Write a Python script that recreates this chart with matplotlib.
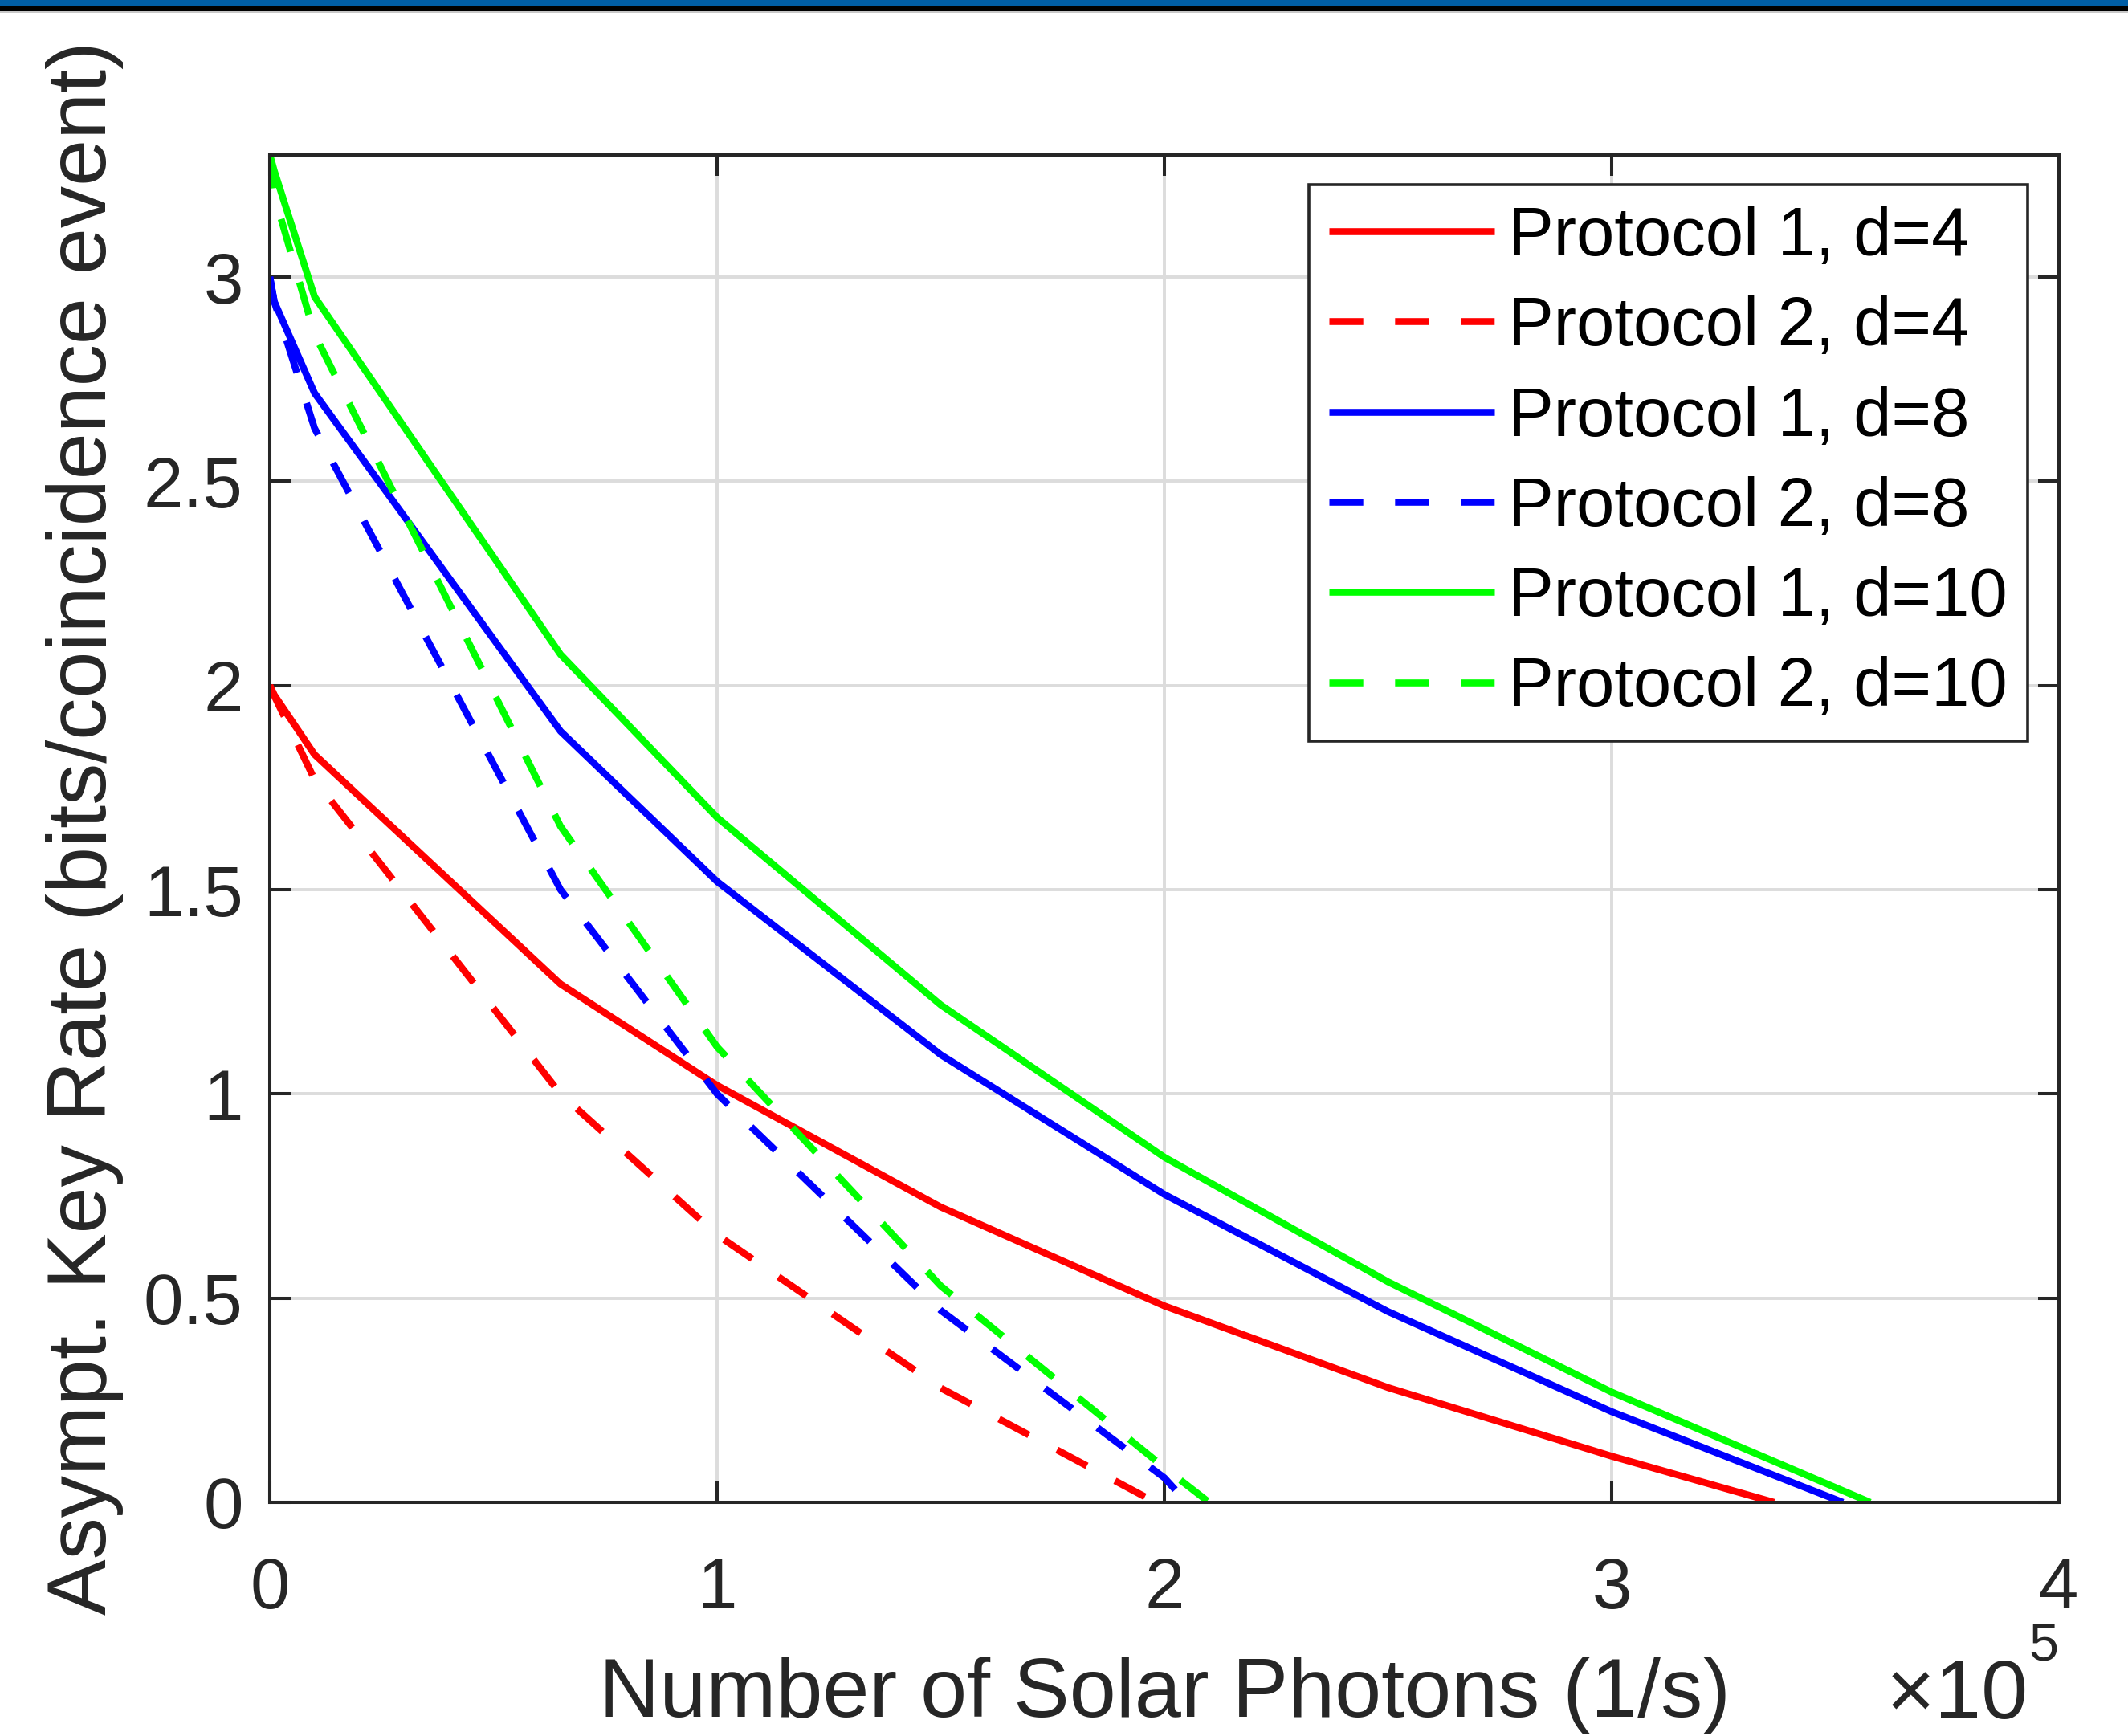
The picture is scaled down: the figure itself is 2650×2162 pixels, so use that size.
import matplotlib
matplotlib.use('Agg')
import matplotlib.pyplot as plt
from matplotlib.ticker import FuncFormatter
from matplotlib.patches import Rectangle

plt.rcParams['font.family'] = ['Liberation Sans', 'DejaVu Sans']

# ---------------- data ----------------
# x: number of solar photons (1/s)
x_p1 = [0, 1e3, 1e4, 6.5e4, 1e5, 1.5e5, 2e5, 2.5e5, 3e5]
p1_d4 = [2.0, 1.977, 1.831, 1.269, 1.021, 0.723, 0.481, 0.281, 0.113]
p1_d8 = [3.0, 2.94, 2.716, 1.888, 1.52, 1.096, 0.754, 0.467, 0.222]
p1_d10 = [3.3, 3.26, 2.952, 2.076, 1.677, 1.218, 0.845, 0.54, 0.27]
p1_end_x = [3.363e5, 3.517e5, 3.578e5]

x_p2 = [0, 1e3, 1e4, 6.5e4, 1e5, 1.5e5, 2e5]
p2_d4 = [2.0, 1.975, 1.77, 1.0, 0.655, 0.28]
p2_d8 = [3.0, 2.94, 2.63, 1.50, 1.0, 0.47, 0.06]
p2_d10 = [3.3, 3.2, 2.86, 1.655, 1.115, 0.53, 0.085]
p2_end_x = [1.98e5, 2.05e5, 2.1e5]

labels = ['Protocol 1, d=4', 'Protocol 2, d=4', 'Protocol 1, d=8',
          'Protocol 2, d=8', 'Protocol 1, d=10', 'Protocol 2, d=10']
colors = ['#ff0000', '#0000ff', '#00ff00']

x_ticks = [0, 1e5, 2e5, 3e5, 4e5]
y_ticks = [0, 0.5, 1, 1.5, 2, 2.5, 3]
y_tick_labels = ['0', '0.5', '1', '1.5', '2', '2.5', '3']

xlabel = 'Number of Solar Photons (1/s)'
ylabel = 'Asympt. Key Rate (bits/coincidence event)'

# ---------------- figure ----------------
fig = plt.figure(figsize=(13.25, 10.81), dpi=200)
ax = fig.add_axes([336/2650, 1-1871/2162, (2564-336)/2650, (1871-192.5)/2162])

dk = '#262626'
lw = 3.1
dash = (0, (4.9, 4.6))

p1_sets = [p1_d4, p1_d8, p1_d10]
p2_sets = [p2_d4, p2_d8, p2_d10]
for i in range(3):
    xs1 = x_p1[:len(p1_sets[i])] + [p1_end_x[i]]
    ys1 = p1_sets[i] + [0.0]
    ax.plot(xs1, ys1, color=colors[i], lw=lw, solid_capstyle='butt',
            solid_joinstyle='round', label=labels[2*i])
    xs2 = x_p2[:len(p2_sets[i])] + [p2_end_x[i]]
    ys2 = p2_sets[i] + [0.0]
    ax.plot(xs2, ys2, color=colors[i], lw=lw, linestyle=dash,
            dash_capstyle='butt', label=labels[2*i+1])

ax.set_xlim(0, 4e5)
ax.set_ylim(0, 3.3)
ax.set_xticks(x_ticks)
ax.xaxis.set_major_formatter(FuncFormatter(lambda v, p: f'{v/1e5:g}'))
ax.set_yticks(y_ticks)
ax.set_yticklabels(y_tick_labels)

ax.grid(True, color='#dcdcdc', lw=1.4)
ax.set_axisbelow(True)
ax.tick_params(direction='in', length=9.4, width=1.45, top=True, right=True,
               labelsize=32, colors=dk)
ax.tick_params(axis='x', pad=24)
ax.tick_params(axis='y', pad=12)
for s in ax.spines.values():
    s.set_color(dk)
    s.set_linewidth(1.45)

leg = ax.legend(loc='upper right', bbox_to_anchor=(0.9825, 0.9774),
                borderaxespad=0, fontsize=30.6, handlelength=2.42,
                handletextpad=0.2, labelspacing=0.38, borderpad=0.3,
                fancybox=False, framealpha=1, edgecolor=dk)
leg.get_frame().set_linewidth(1.3)

fig.text(1450/2650, 1-2138/2162, xlabel, ha='center', va='baseline',
         fontsize=37.6, color=dk)
fig.text(132/2650, 1-1031/2162, ylabel, rotation=90, rotation_mode='anchor',
         ha='center', va='baseline', fontsize=37.6, color=dk)
fig.text(2349/2650, 1-2140/2162, '\u00d710', ha='left', va='baseline',
         fontsize=37.6, color=dk)
fig.text(2526/2650, 1-2068/2162, '5', ha='left', va='baseline',
         fontsize=24, color=dk)

# top banner bands
fig.add_artist(Rectangle((0, 1-8/2162), 1, 8/2162, transform=fig.transFigure,
                         facecolor='#005EA6', edgecolor='none'))
fig.add_artist(Rectangle((0, 1-14/2162), 1, 6/2162, transform=fig.transFigure,
                         facecolor='#000000', edgecolor='none'))
fig.add_artist(Rectangle((0, 1-15.5/2162), 1, 1.5/2162, transform=fig.transFigure,
                         facecolor='#c8c8c8', edgecolor='none'))

fig.savefig('out.png', dpi=200)
